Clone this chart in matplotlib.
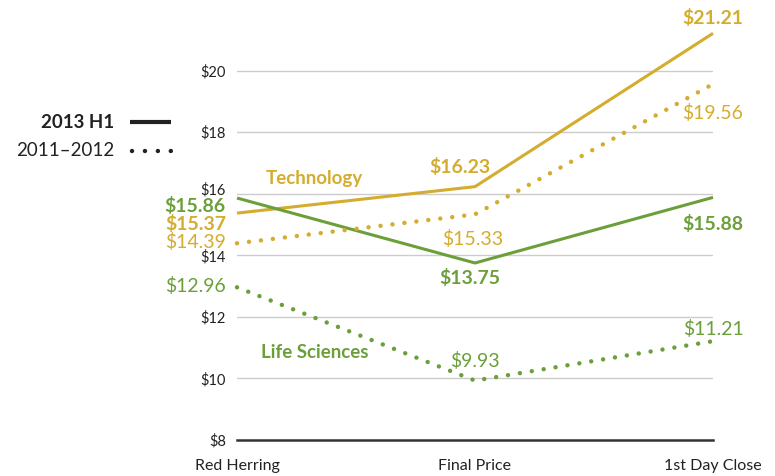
import matplotlib
matplotlib.use('Agg')
import matplotlib.pyplot as plt
from matplotlib.transforms import ScaledTranslation

plt.rcParams['font.family'] = ['Lato', 'DejaVu Sans']

stages = ['Red Herring', 'Final Price', '1st Day Close']
tech_2013 = [15.37, 16.23, 21.21]
tech_prior = [14.39, 15.33, 19.56]
life_2013 = [15.86, 13.75, 15.88]
life_prior = [12.96, 9.93, 11.21]
y_ticks = [8, 10, 12, 14, 16, 18, 20]

gold = '#D4AC2E'
green = '#6B9F3A'
dotted = (0, (0.01, 2.7))

fig = plt.figure(figsize=(7.75, 4.76), dpi=100)
ax = fig.add_axes([237 / 775, 36 / 476, 476 / 775, 431 / 476])
x = range(len(stages))

ax.plot(x, tech_2013, color=gold, lw=2.2, clip_on=False, solid_capstyle='butt')
ax.plot(x, life_2013, color=green, lw=2.2, clip_on=False, solid_capstyle='butt')
ax.plot(x, tech_prior, color=gold, lw=3.2, ls=dotted, dash_capstyle='round', clip_on=False)
ax.plot(x, life_prior, color=green, lw=3.2, ls=dotted, dash_capstyle='round', clip_on=False)

ax.set_xlim(0, 2)
ax.set_ylim(8, 22)
ax.set_yticks(y_ticks)
ax.set_yticklabels([f'${v}' for v in y_ticks], fontsize=10.5, color='#222222')
ax.tick_params(axis='y', length=0, pad=8)
# the $16 label sits a little above its gridline
for t in ax.get_yticklabels():
    if t.get_text() == '$16':
        t.set_transform(t.get_transform() + ScaledTranslation(0, 5 / 100, fig.dpi_scale_trans))
ax.set_xticks([])
for v in y_ticks[1:]:
    ax.axhline(v, color='#cccccc', lw=1, zorder=0)
ax.axhline(8, color='#333333', lw=1.8, zorder=0, clip_on=False)
for s in ax.spines.values():
    s.set_visible(False)

for i, name in enumerate(stages):
    ax.annotate(name, (i, 8), xytext=(0, -19), textcoords='offset points',
                ha='center', va='center', fontsize=11.5, color='#222222')


def label(xi, val, dx, dy, color, bold, ha='center'):
    ax.annotate(f'${val:.2f}', (xi, val), xytext=(dx, dy), textcoords='offset points',
                ha=ha, va='center', fontsize=14, color=color,
                fontweight='bold' if bold else 'normal', annotation_clip=False)


# left column
label(0, life_2013[0], -8, -6, green, True, ha='right')
label(0, tech_2013[0], -8, -8, gold, True, ha='right')
label(0, tech_prior[0], -8, 1, gold, False, ha='right')
label(0, life_prior[0], -8, 1, green, False, ha='right')
# middle
label(1, tech_2013[1], -11, 14, gold, True)
label(1, tech_prior[1], -2, -18, gold, False)
label(1, life_2013[1], -4, -11, green, True)
label(1, life_prior[1], 0, 14, green, False)
# right
label(2, tech_2013[2], 0, 11, gold, True)
label(2, tech_prior[2], 0, -21, gold, False)
label(2, life_2013[2], 0, -19, green, True)
label(2, life_prior[2], 0, 9, green, False)

ax.annotate('Technology', (0, tech_2013[0]), xytext=(56, 25), textcoords='offset points',
            ha='center', va='center', fontsize=13.5, fontweight='bold', color=gold)
ax.annotate('Life Sciences', (0, life_prior[0]), xytext=(56, -47), textcoords='offset points',
            ha='center', va='center', fontsize=13.5, fontweight='bold', color=green)

# legend
fig.text(114 / 775, 1 - 122 / 476, '2013 H1', ha='right', va='center',
         fontsize=13.5, fontweight='bold', color='#222222')
fig.text(114 / 775, 1 - 150 / 476, '2011\u20132012', ha='right', va='center',
         fontsize=13.5, color='#222222')
fig.add_artist(plt.Line2D([130 / 775, 171 / 775], [1 - 122 / 476] * 2,
                          color='#222222', lw=3, solid_capstyle='butt'))
fig.add_artist(plt.Line2D([132 / 775, 174 / 775], [1 - 151 / 476] * 2,
                          color='#222222', lw=3.2, ls=(0, (0.01, 2.9)),
                          dash_capstyle='round'))

fig.savefig('out.png', dpi=100)
